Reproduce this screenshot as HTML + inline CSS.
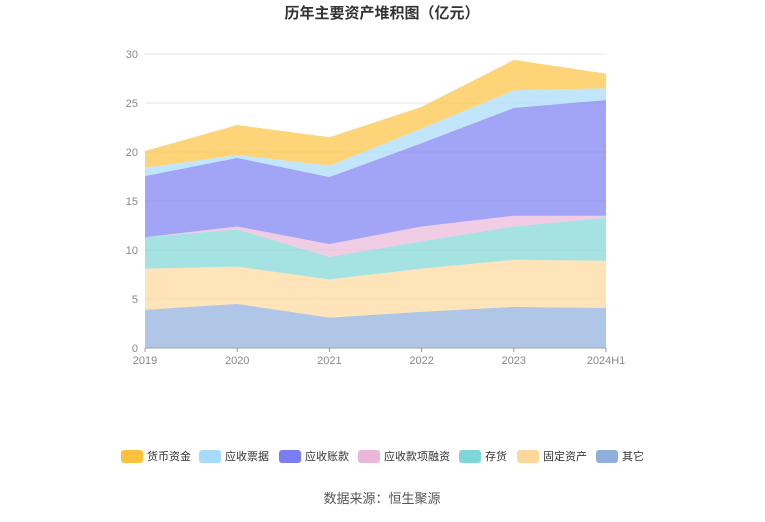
<!DOCTYPE html>
<html><head><meta charset="utf-8"><style>
body{margin:0;background:#fff;font-family:"Liberation Sans","Noto Sans CJK SC",sans-serif}
</style></head><body>
<svg id="c" width="765" height="517" xmlns="http://www.w3.org/2000/svg">
<text x="382" y="18" text-anchor="middle" font-size="15" font-weight="bold" fill="#333">历年主要资产堆积图（亿元）</text>
<g id="grid"></g><g id="areas"></g><g id="axes"></g><g id="legend"></g>
<text x="382" y="503" text-anchor="middle" font-size="13" fill="#555">数据来源：恒生聚源</text>
</svg>
<script>
const categories=["2019","2020","2021","2022","2023","2024H1"];
const seriesNames=["其它","固定资产","存货","应收款项融资","应收账款","应收票据","货币资金"];
const other=[3.9,4.5,3.1,3.7,4.2,4.1];
const fixedAssets=[4.2,3.8,3.9,4.4,4.8,4.8];
const inventory=[3.2,3.8,2.3,2.8,3.4,4.4];
const receivableFin=[0.0,0.3,1.3,1.5,1.1,0.2];
const receivables=[6.25,7.0,6.85,8.5,11.0,11.8];
const notesRecv=[0.85,0.3,1.15,1.5,1.8,1.2];
const cash=[1.7,3.05,2.9,2.2,3.1,1.5];
const yTicks=[0,5,10,15,20,25,30];
const series=[other,fixedAssets,inventory,receivableFin,receivables,notesRecv,cash];
const colors=["#8eaedc","#fdd89a","#7fd6d6","#e9b8d9","#7b7ef2","#a6dcfb","#fcc23e"];
const NS="http://www.w3.org/2000/svg";
const x0=145,x1=606,yB=348,yT=54;
const xs=i=>x0+i*(x1-x0)/(categories.length-1);
const ys=v=>yB-v*(yB-yT)/30;
function mk(t,a,p){const e=document.createElementNS(NS,t);for(const k in a)e.setAttribute(k,a[k]);p.appendChild(e);return e;}
const grid=document.getElementById('grid'),axes=document.getElementById('axes'),areas=document.getElementById('areas'),leg=document.getElementById('legend');
yTicks.forEach(v=>{const l=mk('line',{x1:x0,x2:x1,y1:ys(v),y2:ys(v),stroke:v===0?'#999':'#e6e6e6'},grid);

const t=mk('text',{x:138,y:ys(v)+4,'text-anchor':'end','font-size':11,fill:'#888'},axes);t.textContent=v;
});
categories.forEach((c,i)=>{const t=mk('text',{x:xs(i),y:364,'text-anchor':'middle','font-size':11,fill:'#888'},axes);t.textContent=c;

const tk=mk('line',{x1:xs(i),x2:xs(i),y1:yB,y2:yB+4,stroke:'#999'},axes);});
let base=categories.map(()=>0);
series.forEach((s,k)=>{const top=base.map((b,i)=>b+s[i]);
let d='M'+top.map((v,i)=>xs(i)+','+ys(v)).join('L');
for(let i=categories.length-1;i>=0;i--)d+='L'+xs(i)+','+ys(base[i]);d+='Z';
const p=mk('path',{d:d,fill:colors[k],'fill-opacity':0.7},areas);
base=top;});
const legNames=["货币资金","应收票据","应收账款","应收款项融资","存货","固定资产","其它"];
const legColors=["#fcc23e","#a6dcfb","#7b7ef2","#e9b8d9","#7fd6d6","#fdd89a","#8eaedc"];
const legX=[121,199,279,358,459,517,596];
legNames.forEach((n,i)=>{const g=mk('g',{},leg);
mk('rect',{x:legX[i],y:450,width:22,height:13,rx:3,fill:legColors[i]},g);
const t=mk('text',{x:legX[i]+26,y:460,'font-size':11,fill:'#333'},g);t.textContent=n;});
</script>
</body></html>
